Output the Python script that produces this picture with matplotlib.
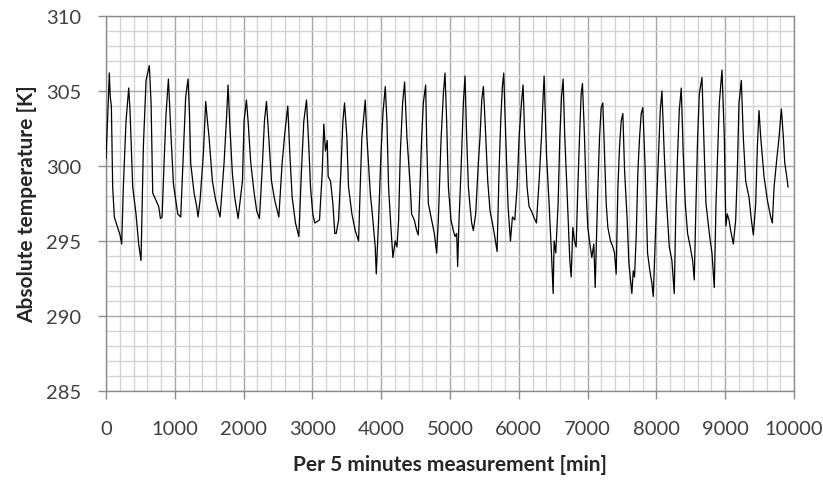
import matplotlib
matplotlib.use("Agg")
import matplotlib.pyplot as plt
from matplotlib.ticker import MultipleLocator

x_vals = [
    0, 20, 35, 48, 62, 78, 97, 121, 170, 204, 228, 252, 291, 330, 349, 388, 436, 475, 509,
    543, 582, 630, 655, 679, 728, 766, 791, 815, 849, 873, 907, 946, 980, 1043,
    1086, 1124, 1158, 1192, 1212, 1231, 1280, 1318, 1338, 1367, 1415, 1449, 1474, 1498,
    1546, 1595, 1658, 1716, 1755, 1774, 1803, 1837, 1871, 1920, 1983, 2007, 2041, 2065,
    2104, 2153, 2191, 2230, 2269, 2303, 2332, 2366, 2405, 2453, 2512, 2560, 2599, 2642,
    2672, 2706, 2754, 2803, 2841, 2875, 2914, 2948, 2972, 3006, 3035, 3069, 3103, 3142,
    3166, 3190, 3215, 3229, 3263, 3297, 3326, 3346, 3380, 3414, 3443, 3467, 3501, 3525,
    3574, 3622, 3671, 3695, 3719, 3768, 3792, 3841, 3879, 3913, 3928, 3962, 3996, 4025,
    4059, 4083, 4107, 4141, 4170, 4204, 4229, 4253, 4277, 4311, 4340, 4374, 4423, 4442,
    4481, 4515, 4539, 4563, 4588, 4612, 4646, 4660, 4685, 4733, 4772, 4806, 4830, 4869,
    4903, 4927, 4951, 4976, 5014, 5048, 5073, 5097, 5111, 5131, 5160, 5194, 5218, 5242,
    5267, 5291, 5315, 5339, 5373, 5412, 5436, 5461, 5485, 5509, 5548, 5582, 5616, 5650,
    5684, 5713, 5737, 5761, 5781, 5810, 5844, 5878, 5907, 5941, 5975, 6004, 6038, 6062,
    6086, 6120, 6149, 6183, 6217, 6256, 6295, 6329, 6353, 6368, 6402, 6440, 6474, 6499,
    6513, 6537, 6571, 6596, 6620, 6644, 6668, 6702, 6741, 6761, 6785, 6809, 6833, 6858,
    6882, 6906, 6925, 6955, 6979, 7003, 7027, 7061, 7090, 7110, 7149, 7173, 7197, 7221,
    7246, 7270, 7294, 7333, 7367, 7391, 7415, 7440, 7464, 7488, 7512, 7537, 7575, 7600,
    7624, 7643, 7663, 7682, 7706, 7731, 7755, 7779, 7803, 7837, 7871, 7905, 7934, 7954,
    7993, 8031, 8056, 8080, 8114, 8148, 8187, 8225, 8259, 8284, 8308, 8332, 8361, 8390,
    8419, 8453, 8492, 8526, 8550, 8575, 8599, 8623, 8662, 8696, 8720, 8769, 8807, 8841,
    8866, 8890, 8914, 8953, 8987, 9000, 9010, 9030, 9055, 9079, 9118, 9152, 9176, 9200,
    9234, 9263, 9297, 9346, 9380, 9409, 9443, 9467, 9491, 9516, 9564, 9613, 9661, 9685,
    9710, 9748, 9782, 9816, 9845, 9865, 9894, 9913,
]
temp_vals = [
    300.5, 302.7, 304.5, 306.2, 304.6, 304.0, 298.6, 296.6, 295.9, 295.4, 294.8, 298.6, 303.0,
    305.2, 303.7, 298.6, 296.8, 294.8, 293.7, 301.3, 305.7, 306.7, 304.2, 298.2, 297.7,
    297.3, 296.5, 296.6, 300.8, 303.5, 305.8, 301.9, 298.8, 296.8,
    296.6, 300.8, 304.6, 305.8, 303.7, 300.2, 298.2, 297.3, 296.6, 297.7, 300.8, 304.3,
    303.0, 301.9, 299.0, 297.7, 296.6, 300.2, 303.5, 305.4, 302.4, 299.5, 297.9, 296.5,
    299.0, 303.0, 304.4, 303.0, 300.2, 298.2, 297.0, 296.5, 299.7, 303.0, 304.3, 301.9,
    299.0, 297.7, 296.6, 300.2, 302.2, 304.0, 300.8, 297.9, 296.2, 295.3, 299.7, 303.0,
    304.4, 301.3, 298.6, 296.8, 296.2, 296.3, 296.4, 299.5, 302.8, 301.0, 301.7, 299.3,
    299.0, 297.5, 295.5, 295.5, 296.4, 299.7, 303.0, 304.2, 301.9, 298.6, 296.8, 295.7,
    295.0, 298.6, 301.9, 304.4, 301.9, 298.2, 296.4, 294.6, 292.8, 296.4, 300.8, 303.5,
    305.3, 303.0, 298.6, 295.9, 293.9, 295.0, 294.6, 296.4, 300.8, 304.2, 305.6, 301.9,
    298.6, 296.8, 296.4, 295.7, 295.4, 298.6, 301.9, 304.2, 305.4, 301.9, 297.5, 296.4,
    295.5, 294.2, 296.4, 301.7, 304.8, 306.2, 303.0, 298.6, 296.4, 295.7, 295.3, 295.5,
    293.3, 296.4, 299.7, 304.2, 306.0, 301.9, 298.6, 297.3, 296.2, 295.7, 296.8, 300.2,
    301.9, 304.4, 305.3, 303.0, 299.0, 297.0, 296.2, 295.3, 294.3, 299.7, 303.0, 305.3,
    306.2, 301.9, 297.3, 295.0, 296.6, 296.4, 298.6, 301.9, 304.2, 305.4, 301.9, 298.6,
    297.3, 297.0, 296.6, 296.2, 299.0, 301.9, 304.6, 306.0, 300.8, 297.5, 294.2, 291.5,
    295.0, 294.2, 297.5, 301.9, 304.6, 305.8, 301.9, 298.2, 293.7, 292.6, 295.9, 295.0,
    294.6, 298.6, 301.9, 304.8, 305.5, 301.9, 298.2, 295.9, 295.0, 293.9, 294.8, 291.9,
    298.6, 301.9, 303.9, 304.2, 300.8, 297.5, 295.9, 295.0, 294.6, 294.2, 292.8, 298.6,
    301.3, 303.0, 303.5, 299.7, 296.4, 293.5, 292.4, 291.5, 293.0, 292.6, 295.3, 299.7,
    301.9, 303.5, 303.9, 299.7, 294.2, 293.0, 292.2, 291.3, 296.4, 300.8, 303.7, 305.0,
    300.8, 297.5, 294.6, 293.7, 291.5, 297.5, 300.8, 303.7, 305.2, 300.8, 297.5, 295.5,
    294.6, 293.7, 292.4, 297.5, 301.9, 304.8, 305.9, 300.8, 297.5, 295.5, 294.2, 291.9,
    297.5, 300.8, 304.2, 306.4, 301.9, 298.0, 296.0, 296.8, 296.4, 295.7, 294.8, 296.4,
    299.7, 304.2, 305.7, 301.9, 299.0, 297.9, 296.4, 295.4, 297.5, 301.3, 303.7, 301.9,
    299.3, 297.7, 296.6, 296.2, 298.6, 300.4, 301.9, 303.8, 301.9, 300.2, 299.3, 298.6,
]

x_label = "Per 5 minutes measurement [min]"
y_label = "Absolute temperature [K]"

plt.rcParams['font.family'] = ['Lato', 'DejaVu Sans']

fig = plt.figure(figsize=(8.23, 4.89), dpi=100)
ax = fig.add_axes([0.1288, 0.1984, 0.836, 0.7668])

ax.plot(x_vals, temp_vals, color='black', linewidth=0.9, zorder=3)

ax.set_xlim(0, 10000)
ax.set_ylim(285, 310)
ax.xaxis.set_major_locator(MultipleLocator(1000))
ax.xaxis.set_minor_locator(MultipleLocator(200))
ax.yaxis.set_major_locator(MultipleLocator(5))
ax.yaxis.set_minor_locator(MultipleLocator(1))

ax.grid(which='major', color='#a6a6a6', linewidth=1.0, zorder=1)
ax.grid(which='minor', color='#d4d4d4', linewidth=1.0, zorder=0)
ax.set_axisbelow(True)

for s in ax.spines.values():
    s.set_color('#8c8c8c')
    s.set_linewidth(1.0)

ax.tick_params(which='major', direction='out', length=6, width=1, color='#8c8c8c',
               labelsize=14.5, labelcolor='#404040')
ax.tick_params(which='minor', length=0)
ax.tick_params(axis='x', pad=15)
ax.tick_params(axis='y', pad=12)

ax.set_xlabel(x_label, fontsize=15, fontweight='bold', color='#262626', labelpad=12)
ax.set_ylabel(y_label, fontsize=15, fontweight='bold', color='#262626', labelpad=6)

fig.savefig("out.png", dpi=100)
